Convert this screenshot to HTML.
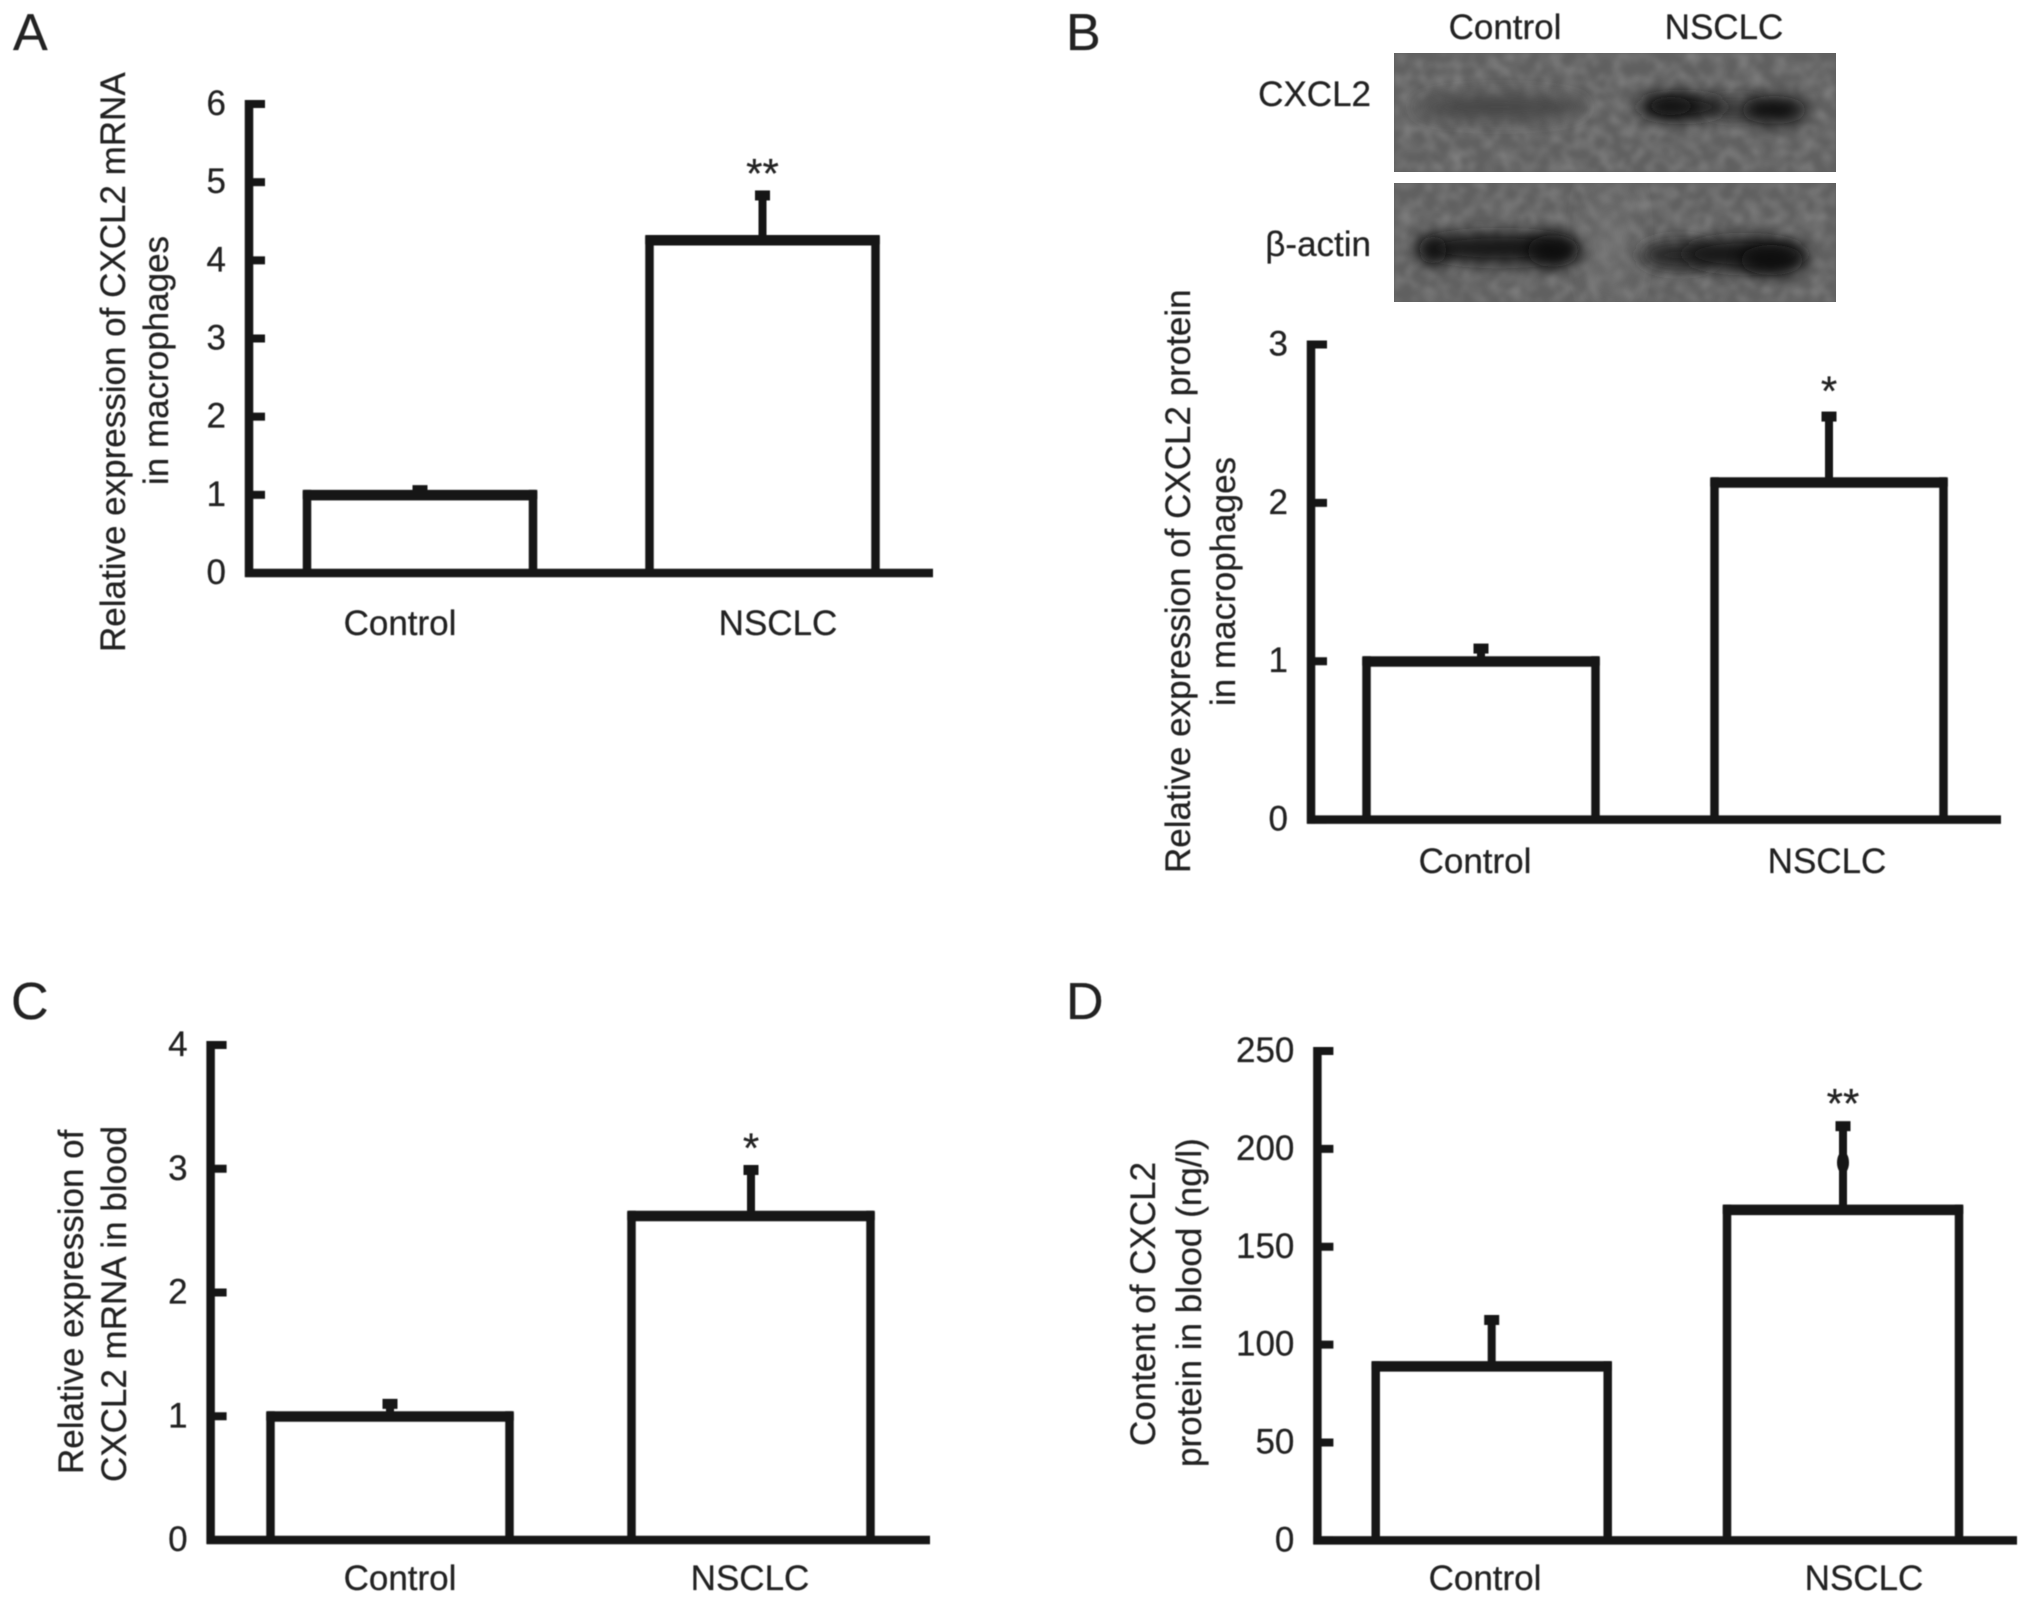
<!DOCTYPE html>
<html lang="en">
<head>
<meta charset="utf-8">
<title>CXCL2 expression in NSCLC</title>
<style>
html,body{margin:0;padding:0;background:#fff;}
svg{display:block;}
text{font-family:"Liberation Sans",Arial,sans-serif;fill:#222;stroke:#222;stroke-width:0.25px;filter:blur(0.4px);}
</style>
</head>
<body>
<svg id="figure" xmlns="http://www.w3.org/2000/svg" width="2032" height="1603" viewBox="0 0 2032 1603">
<defs>
<filter id="soft" x="-5%" y="-5%" width="110%" height="110%"><feGaussianBlur stdDeviation="0.6"/></filter>
<filter id="band" filterUnits="userSpaceOnUse" x="1300" y="0" width="700" height="400"><feGaussianBlur stdDeviation="8"/></filter>
<filter id="gap" filterUnits="userSpaceOnUse" x="1300" y="0" width="700" height="400"><feGaussianBlur stdDeviation="16"/></filter>
<filter id="grain" x="0" y="0" width="100%" height="100%">
<feTurbulence type="fractalNoise" baseFrequency="0.08" numOctaves="2" seed="7"/>
<feColorMatrix type="matrix" values="0 0 0 0 0.6  0 0 0 0 0.6  0 0 0 0 0.6  0.6 0 0 0 -0.22"/>
<feGaussianBlur stdDeviation="2"/>
</filter>
<clipPath id="blot-top-clip"><rect x="1394" y="53" width="442" height="119"/></clipPath>
<clipPath id="blot-bottom-clip"><rect x="1394" y="183" width="442" height="119"/></clipPath>
</defs>
<rect width="2032" height="1603" fill="#fff"/>

<g>
  <g clip-path="url(#blot-top-clip)">
    <rect x="1394" y="53" width="442" height="119" fill="#606060"/>
    <rect x="1394" y="53" width="442" height="119" filter="url(#grain)"/>
    <ellipse cx="1500" cy="107" rx="84" ry="13" fill="#474747" filter="url(#band)"/>
    <ellipse cx="1735" cy="108" rx="30" ry="6" fill="#303030" filter="url(#band)"/>
    <ellipse cx="1682" cy="107" rx="46" ry="12" fill="#181818" filter="url(#band)"/>
    <ellipse cx="1671" cy="106" rx="24" ry="9" fill="#101010" filter="url(#band)"/>
    <ellipse cx="1774" cy="110" rx="33" ry="14" fill="#101010" filter="url(#band)"/>
  </g>
  <g clip-path="url(#blot-bottom-clip)">
    <rect x="1394" y="183" width="442" height="119" fill="#606060"/>
    <rect x="1394" y="183" width="442" height="119" filter="url(#grain)"/>
    <ellipse cx="1610" cy="240" rx="10" ry="60" fill="#787878" filter="url(#gap)"/>
    <ellipse cx="1499" cy="248" rx="80" ry="15" fill="#141414" filter="url(#band)"/>
    <ellipse cx="1433" cy="250" rx="14" ry="14" fill="#0c0c0c" filter="url(#band)"/>
    <ellipse cx="1553" cy="251" rx="26" ry="16" fill="#0a0a0a" filter="url(#band)"/>
    <ellipse cx="1680" cy="255" rx="40" ry="14" fill="#262626" filter="url(#band)"/>
    <ellipse cx="1745" cy="254" rx="62" ry="16" fill="#161616" filter="url(#band)"/>
    <ellipse cx="1772" cy="260" rx="32" ry="15" fill="#101010" filter="url(#band)"/>
  </g>
  <text x="1505" y="39" font-size="35" text-anchor="middle">Control</text>
  <text x="1724" y="39" font-size="35" text-anchor="middle">NSCLC</text>
  <text x="1371" y="106" font-size="35" text-anchor="end">CXCL2</text>
  <text x="1371" y="256" font-size="35" text-anchor="end">β-actin</text>
</g>

<text x="13" y="50" font-size="52">A</text>
<text x="1066" y="50" font-size="52">B</text>
<text x="11" y="1019" font-size="52">C</text>
<text x="1066" y="1019" font-size="52">D</text>

<g font-size="35">
  <text transform="translate(125,652) rotate(-90)">Relative expression of CXCL2 mRNA</text>
  <text transform="translate(168,485) rotate(-90)">in macrophages</text>
</g>
<g font-size="35">
  <text transform="translate(1190,873) rotate(-90)">Relative expression of CXCL2 protein</text>
  <text transform="translate(1235,706) rotate(-90)">in macrophages</text>
</g>
<g font-size="35">
  <text transform="translate(83,1474) rotate(-90)">Relative expression of</text>
  <text transform="translate(126,1482) rotate(-90)">CXCL2 mRNA in blood</text>
</g>
<g font-size="35">
  <text transform="translate(1155,1446) rotate(-90)">Content of CXCL2</text>
  <text transform="translate(1201,1467) rotate(-90)">protein in blood (ng/l)</text>
</g>

<g id="charts"></g>
</svg>

<script>
// Panel A
const categoriesA = ["Control", "NSCLC"];
const valuesA = [1, 4.26];
const errorTopsA = [1.06, 4.83];
const ticksA = [0, 1, 2, 3, 4, 5, 6];
const starsA = ["", "**"];
// Panel B
const categoriesB = ["Control", "NSCLC"];
const valuesB = [1, 2.13];
const errorTopsB = [1.08, 2.545];
const ticksB = [0, 1, 2, 3];
const starsB = ["", "*"];
// Panel C
const categoriesC = ["Control", "NSCLC"];
const valuesC = [1, 2.62];
const errorTopsC = [1.1, 2.99];
const ticksC = [0, 1, 2, 3, 4];
const starsC = ["", "*"];
// Panel D
const categoriesD = ["Control", "NSCLC"];
const valuesD = [89, 169];
const errorTopsD = [112.6, 211.6];
const ticksD = [0, 50, 100, 150, 200, 250];
const starsD = ["", "**"];
const errorBlobD = 193;

const SVG_NS = "http://www.w3.org/2000/svg";
const INK = "#161616";

function make(parent, tag, attrs) {
  const el = document.createElementNS(SVG_NS, tag);
  for (const k in attrs) el.setAttribute(k, attrs[k]);
  parent.appendChild(el);
  return el;
}

function drawPanel(id, cats, vals, errs, ticks, stars, box) {
  const root = document.getElementById("charts");
  const g = make(root, "g", {});
  
  

  const marks = make(g, "g", { filter: "url(#soft)" });
  
  

  const maxTick = Math.max.apply(null, ticks);
  const y = function (v) { return box.zero - (v / maxTick) * (box.zero - box.top); };
  const x = function (i) { return box.centers[i]; };

  cats.forEach(function (cat, i) {
    const barGroup = make(marks, "g", {});
    
    
    const left = x(i) - box.barWidth / 2;
    const right = x(i) + box.barWidth / 2;
    const top = y(vals[i]);
    make(barGroup, "rect", { x: left - 4.25, y: top - 5, width: 8.5, height: box.zero - top + 5, fill: INK });
    make(barGroup, "rect", { x: right - 4.25, y: top - 5, width: 8.5, height: box.zero - top + 5, fill: INK });
    make(barGroup, "rect", { x: left - 4.25, y: top - 5, width: box.barWidth + 8.5, height: 10.5, rx: 2, fill: INK });

    const errGroup = make(marks, "g", {});
    
    
    const errTop = y(errs[i]);
    make(errGroup, "rect", { x: x(i) - 4, y: errTop, width: 8, height: top - errTop, fill: INK });
    make(errGroup, "rect", { x: x(i) - 7.5, y: errTop - 5, width: 15, height: 10, fill: INK });

    const catLabel = make(g, "text", { x: box.labelCenters[i], y: box.labelY, "font-size": 35, "text-anchor": "middle" });
    
    
    catLabel.textContent = cat;

    if (stars[i]) {
      const star = make(g, "text", { x: x(i), y: errTop - box.starGap, "font-size": 42, "text-anchor": "middle" });
      
      
      star.textContent = stars[i];
    }
  });

  if (box.blob !== undefined) {
    const blob = make(marks, "ellipse", { cx: x(1), cy: y(box.blob), rx: 6, ry: 11, fill: INK });
    
    
  }

  const yAxis = make(marks, "rect", { x: box.axisX - 4.25, y: box.top - 4, width: 8.5, height: box.zero - box.top + 8, fill: INK });
  
  
  const xAxis = make(marks, "rect", { x: box.axisX - 4, y: box.zero - 4.25, width: box.axisEnd - box.axisX + 4, height: 8.5, fill: INK });
  
  

  ticks.forEach(function (t) {
    const mark = make(marks, "rect", { x: box.axisX, y: y(t) - 4, width: 16, height: 8, fill: INK });
    
    
    const label = make(g, "text", { x: box.axisX - 23, y: y(t) + 11, "font-size": 35, "text-anchor": "end" });
    
    
    label.textContent = String(t);
  });
}

drawPanel("a", categoriesA, valuesA, errorTopsA, ticksA, starsA, {
  axisX: 249, axisEnd: 933, top: 104, zero: 573, centers: [420, 762.5], barWidth: 226, labelCenters: [400, 778], labelY: 635, starGap: 7.5
});
drawPanel("b", categoriesB, valuesB, errorTopsB, ticksB, starsB, {
  axisX: 1311, axisEnd: 2001, top: 344.5, zero: 819.6, centers: [1481, 1829], barWidth: 229, labelCenters: [1475, 1827], labelY: 873, starGap: 11
});
drawPanel("c", categoriesC, valuesC, errorTopsC, ticksC, starsC, {
  axisX: 210.6, axisEnd: 930, top: 1045, zero: 1540, centers: [390, 751], barWidth: 239, labelCenters: [400, 750], labelY: 1590, starGap: 7.5
});
drawPanel("d", categoriesD, valuesD, errorTopsD, ticksD, starsD, {
  axisX: 1317.4, axisEnd: 2017, top: 1051, zero: 1540.4, centers: [1491.7, 1843], barWidth: 232, labelCenters: [1485, 1864], labelY: 1590, starGap: 8, blob: errorBlobD
});
</script>
</body>
</html>
